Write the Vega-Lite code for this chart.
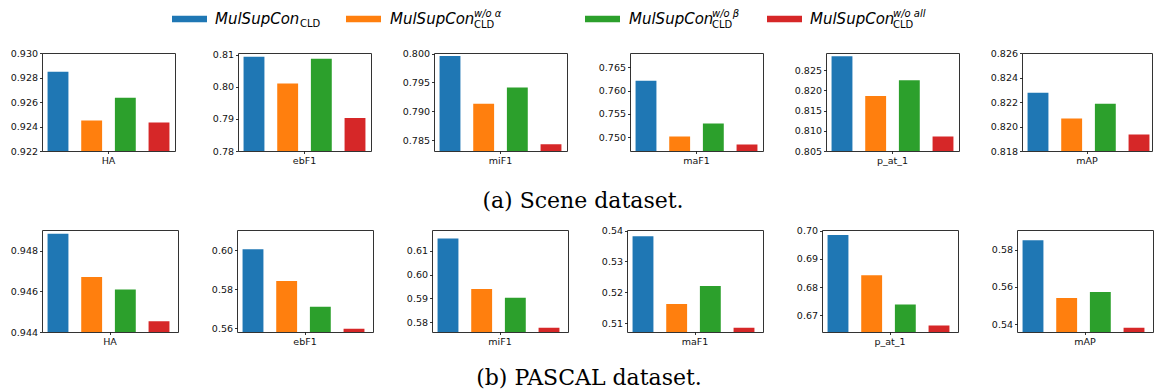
{
  "$schema": "https://vega.github.io/schema/vega-lite/v6.json",
  "padding": {"left": 3, "top": 5, "right": 0, "bottom": 0},
  "background": "white",
  "spacing": 0,
  "config": {
    "view": {"stroke": null},
    "font": "DejaVu Sans",
    "axis": {"grid": false, "domain": false, "tickSize": 2.5, "tickColor": "#000", "tickWidth": 0.8, "labelFont": "DejaVu Sans", "labelFontSize": 9.5, "labelColor": "#111", "labelPadding": 2, "labelOverlap": false, "labelFlush": false},
    "title": {"fontSize": 1}
  },
  "datasets": {
    "scene": [
      {"metric": "HA", "series": "MulSupCon_CLD", "value": 0.92846},
      {"metric": "HA", "series": "MulSupCon_CLD w/o α", "value": 0.92449},
      {"metric": "HA", "series": "MulSupCon_CLD w/o β", "value": 0.92635},
      {"metric": "HA", "series": "MulSupCon_CLD w/o all", "value": 0.92432},
      {"metric": "ebF1", "series": "MulSupCon_CLD", "value": 0.8093},
      {"metric": "ebF1", "series": "MulSupCon_CLD w/o α", "value": 0.801},
      {"metric": "ebF1", "series": "MulSupCon_CLD w/o β", "value": 0.8087},
      {"metric": "ebF1", "series": "MulSupCon_CLD w/o all", "value": 0.7903},
      {"metric": "miF1", "series": "MulSupCon_CLD", "value": 0.7996},
      {"metric": "miF1", "series": "MulSupCon_CLD w/o α", "value": 0.7913},
      {"metric": "miF1", "series": "MulSupCon_CLD w/o β", "value": 0.7941},
      {"metric": "miF1", "series": "MulSupCon_CLD w/o all", "value": 0.78425},
      {"metric": "maF1", "series": "MulSupCon_CLD", "value": 0.7621},
      {"metric": "maF1", "series": "MulSupCon_CLD w/o α", "value": 0.7501},
      {"metric": "maF1", "series": "MulSupCon_CLD w/o β", "value": 0.7529},
      {"metric": "maF1", "series": "MulSupCon_CLD w/o all", "value": 0.7484},
      {"metric": "p_at_1", "series": "MulSupCon_CLD", "value": 0.8284},
      {"metric": "p_at_1", "series": "MulSupCon_CLD w/o α", "value": 0.8186},
      {"metric": "p_at_1", "series": "MulSupCon_CLD w/o β", "value": 0.8225},
      {"metric": "p_at_1", "series": "MulSupCon_CLD w/o all", "value": 0.8086},
      {"metric": "mAP", "series": "MulSupCon_CLD", "value": 0.82276},
      {"metric": "mAP", "series": "MulSupCon_CLD w/o α", "value": 0.82065},
      {"metric": "mAP", "series": "MulSupCon_CLD w/o β", "value": 0.82186},
      {"metric": "mAP", "series": "MulSupCon_CLD w/o all", "value": 0.81935}
    ],
    "pascal": [
      {"metric": "HA", "series": "MulSupCon_CLD", "value": 0.94885},
      {"metric": "HA", "series": "MulSupCon_CLD w/o α", "value": 0.94671},
      {"metric": "HA", "series": "MulSupCon_CLD w/o β", "value": 0.9461},
      {"metric": "HA", "series": "MulSupCon_CLD w/o all", "value": 0.94453},
      {"metric": "ebF1", "series": "MulSupCon_CLD", "value": 0.6005},
      {"metric": "ebF1", "series": "MulSupCon_CLD w/o α", "value": 0.5842},
      {"metric": "ebF1", "series": "MulSupCon_CLD w/o β", "value": 0.571},
      {"metric": "ebF1", "series": "MulSupCon_CLD w/o all", "value": 0.5598},
      {"metric": "miF1", "series": "MulSupCon_CLD", "value": 0.6151},
      {"metric": "miF1", "series": "MulSupCon_CLD w/o α", "value": 0.594},
      {"metric": "miF1", "series": "MulSupCon_CLD w/o β", "value": 0.5903},
      {"metric": "miF1", "series": "MulSupCon_CLD w/o all", "value": 0.5778},
      {"metric": "maF1", "series": "MulSupCon_CLD", "value": 0.5382},
      {"metric": "maF1", "series": "MulSupCon_CLD w/o α", "value": 0.5162},
      {"metric": "maF1", "series": "MulSupCon_CLD w/o β", "value": 0.522},
      {"metric": "maF1", "series": "MulSupCon_CLD w/o all", "value": 0.5085},
      {"metric": "p_at_1", "series": "MulSupCon_CLD", "value": 0.6984},
      {"metric": "p_at_1", "series": "MulSupCon_CLD w/o α", "value": 0.6842},
      {"metric": "p_at_1", "series": "MulSupCon_CLD w/o β", "value": 0.6738},
      {"metric": "p_at_1", "series": "MulSupCon_CLD w/o all", "value": 0.6664},
      {"metric": "mAP", "series": "MulSupCon_CLD", "value": 0.5852},
      {"metric": "mAP", "series": "MulSupCon_CLD w/o α", "value": 0.5541},
      {"metric": "mAP", "series": "MulSupCon_CLD w/o β", "value": 0.5573},
      {"metric": "mAP", "series": "MulSupCon_CLD w/o all", "value": 0.538}
    ],
    "legend": [
      {"series": "MulSupCon_CLD", "name": "MulSupCon", "sub": "CLD", "sup": ""},
      {"series": "MulSupCon_CLD w/o α", "name": "MulSupCon", "sub": "CLD", "sup": "w/o α"},
      {"series": "MulSupCon_CLD w/o β", "name": "MulSupCon", "sub": "CLD", "sup": "w/o β"},
      {"series": "MulSupCon_CLD w/o all", "name": "MulSupCon", "sub": "CLD", "sup": "w/o all"}
    ],
    "captions": [
      {"id": "a", "caption": "(a) Scene dataset."},
      {"id": "b", "caption": "(b) PASCAL dataset."}
    ]
  },
  "vconcat": [
    {
      "spacing": 0,
      "hconcat": [
        {"width": 130, "height": 28, "data": {"name": "legend"}, "transform": [{"filter": "datum.series === 'MulSupCon_CLD'"}], "mark": {"type": "text"}, "encoding": {"text": {"value": ""}}},
        {"width": 35, "height": 28, "data": {"name": "legend"}, "transform": [{"filter": "datum.series === 'MulSupCon_CLD'"}], "mark": {"type": "point", "shape": "M-1,-0.186H1V0.186H-1Z", "size": 1225, "filled": true, "opacity": 1, "strokeWidth": 0}, "encoding": {"color": {"field": "series", "type": "nominal", "scale": {"domain": ["MulSupCon_CLD", "MulSupCon_CLD w/o α", "MulSupCon_CLD w/o β", "MulSupCon_CLD w/o all"], "range": ["#1f77b4", "#ff7f0e", "#2ca02c", "#d62728"]}, "legend": null}}},
        {"width": 139, "height": 28, "data": {"name": "legend"}, "transform": [{"filter": "datum.series === 'MulSupCon_CLD'"}], "layer": [
          {"mark": {"type": "text", "font": "DejaVu Sans", "fontStyle": "italic", "fontSize": 15, "align": "left", "baseline": "alphabetic", "dx": -61.5, "dy": 5, "color": "#000"}, "encoding": {"text": {"field": "name"}}},
          {"mark": {"type": "text", "font": "DejaVu Sans", "fontSize": 10, "align": "left", "baseline": "alphabetic", "dx": 23.5, "dy": 8, "color": "#000"}, "encoding": {"text": {"field": "sub"}}}
        ]},
        {"width": 35, "height": 28, "data": {"name": "legend"}, "transform": [{"filter": "datum.series === 'MulSupCon_CLD w/o α'"}], "mark": {"type": "point", "shape": "M-1,-0.186H1V0.186H-1Z", "size": 1225, "filled": true, "opacity": 1, "strokeWidth": 0}, "encoding": {"color": {"field": "series", "type": "nominal", "legend": null}}},
        {"width": 204, "height": 28, "data": {"name": "legend"}, "transform": [{"filter": "datum.series === 'MulSupCon_CLD w/o α'"}], "layer": [
          {"mark": {"type": "text", "font": "DejaVu Sans", "fontStyle": "italic", "fontSize": 15, "align": "left", "baseline": "alphabetic", "dx": -93, "dy": 5, "color": "#000"}, "encoding": {"text": {"field": "name"}}},
          {"mark": {"type": "text", "font": "DejaVu Sans", "fontSize": 10, "align": "left", "baseline": "alphabetic", "dx": -9, "dy": 9, "color": "#000"}, "encoding": {"text": {"field": "sub"}}},
          {"mark": {"type": "text", "font": "DejaVu Sans", "fontStyle": "italic", "fontSize": 10, "align": "left", "baseline": "alphabetic", "dx": -9, "dy": -2, "color": "#000"}, "encoding": {"text": {"field": "sup"}}}
        ]},
        {"width": 35, "height": 28, "data": {"name": "legend"}, "transform": [{"filter": "datum.series === 'MulSupCon_CLD w/o β'"}], "mark": {"type": "point", "shape": "M-1,-0.186H1V0.186H-1Z", "size": 1225, "filled": true, "opacity": 1, "strokeWidth": 0}, "encoding": {"color": {"field": "series", "type": "nominal", "legend": null}}},
        {"width": 147, "height": 28, "data": {"name": "legend"}, "transform": [{"filter": "datum.series === 'MulSupCon_CLD w/o β'"}], "layer": [
          {"mark": {"type": "text", "font": "DejaVu Sans", "fontStyle": "italic", "fontSize": 15, "align": "left", "baseline": "alphabetic", "dx": -64.5, "dy": 5, "color": "#000"}, "encoding": {"text": {"field": "name"}}},
          {"mark": {"type": "text", "font": "DejaVu Sans", "fontSize": 10, "align": "left", "baseline": "alphabetic", "dx": 18.5, "dy": 9, "color": "#000"}, "encoding": {"text": {"field": "sub"}}},
          {"mark": {"type": "text", "font": "DejaVu Sans", "fontStyle": "italic", "fontSize": 10, "align": "left", "baseline": "alphabetic", "dx": 18.5, "dy": -2, "color": "#000"}, "encoding": {"text": {"field": "sup"}}}
        ]},
        {"width": 35, "height": 28, "data": {"name": "legend"}, "transform": [{"filter": "datum.series === 'MulSupCon_CLD w/o all'"}], "mark": {"type": "point", "shape": "M-1,-0.186H1V0.186H-1Z", "size": 1225, "filled": true, "opacity": 1, "strokeWidth": 0}, "encoding": {"color": {"field": "series", "type": "nominal", "legend": null}}},
        {"width": 130, "height": 28, "data": {"name": "legend"}, "transform": [{"filter": "datum.series === 'MulSupCon_CLD w/o all'"}], "layer": [
          {"mark": {"type": "text", "font": "DejaVu Sans", "fontStyle": "italic", "fontSize": 15, "align": "left", "baseline": "alphabetic", "dx": -57, "dy": 5, "color": "#000"}, "encoding": {"text": {"field": "name"}}},
          {"mark": {"type": "text", "font": "DejaVu Sans", "fontSize": 10, "align": "left", "baseline": "alphabetic", "dx": 26, "dy": 9, "color": "#000"}, "encoding": {"text": {"field": "sub"}}},
          {"mark": {"type": "text", "font": "DejaVu Sans", "fontStyle": "italic", "fontSize": 10, "align": "left", "baseline": "alphabetic", "dx": 26, "dy": -2, "color": "#000"}, "encoding": {"text": {"field": "sup"}}}
        ]}
      ]
    },
    {
      "spacing": 63,
      "bounds": "flush",
      "hconcat": [
        {"width": 133, "height": 98, "view": {"stroke": "#333", "strokeWidth": 1}, "title": {"text": " ", "fontSize": 1, "offset": 13, "frame": "group"}, "data": {"name": "scene"}, "transform": [{"filter": "datum.metric === 'HA'"}], "mark": {"type": "bar", "clip": true},
          "encoding": {"x": {"field": "metric", "type": "nominal", "title": null, "scale": {"paddingInner": 0, "paddingOuter": 0}, "axis": {"labelAngle": 0, "minExtent": 20, "maxExtent": 20}}, "xOffset": {"field": "series", "type": "nominal", "scale": {"domain": ["MulSupCon_CLD", "MulSupCon_CLD w/o α", "MulSupCon_CLD w/o β", "MulSupCon_CLD w/o all"], "paddingInner": 0.38, "paddingOuter": 0.165}}, "y": {"field": "value", "type": "quantitative", "title": null, "scale": {"domain": [0.922, 0.93], "zero": false, "nice": false}, "axis": {"values": [0.922, 0.924, 0.926, 0.928, 0.93], "format": ".3f", "minExtent": 38, "maxExtent": 38}}, "color": {"field": "series", "type": "nominal", "legend": null}}},
        {"width": 133, "height": 98, "view": {"stroke": "#333", "strokeWidth": 1}, "title": {"text": " ", "fontSize": 1, "offset": 13, "frame": "group"}, "data": {"name": "scene"}, "transform": [{"filter": "datum.metric === 'ebF1'"}], "mark": {"type": "bar", "clip": true},
          "encoding": {"x": {"field": "metric", "type": "nominal", "title": null, "scale": {"paddingInner": 0, "paddingOuter": 0}, "axis": {"labelAngle": 0, "minExtent": 20, "maxExtent": 20}}, "xOffset": {"field": "series", "type": "nominal", "scale": {"domain": ["MulSupCon_CLD", "MulSupCon_CLD w/o α", "MulSupCon_CLD w/o β", "MulSupCon_CLD w/o all"], "paddingInner": 0.38, "paddingOuter": 0.165}}, "y": {"field": "value", "type": "quantitative", "title": null, "scale": {"domain": [0.78, 0.8105], "zero": false, "nice": false}, "axis": {"values": [0.78, 0.79, 0.8, 0.81], "format": ".2f"}}, "color": {"field": "series", "type": "nominal", "legend": null}}},
        {"width": 133, "height": 98, "view": {"stroke": "#333", "strokeWidth": 1}, "title": {"text": " ", "fontSize": 1, "offset": 13, "frame": "group"}, "data": {"name": "scene"}, "transform": [{"filter": "datum.metric === 'miF1'"}], "mark": {"type": "bar", "clip": true},
          "encoding": {"x": {"field": "metric", "type": "nominal", "title": null, "scale": {"paddingInner": 0, "paddingOuter": 0}, "axis": {"labelAngle": 0, "minExtent": 20, "maxExtent": 20}}, "xOffset": {"field": "series", "type": "nominal", "scale": {"domain": ["MulSupCon_CLD", "MulSupCon_CLD w/o α", "MulSupCon_CLD w/o β", "MulSupCon_CLD w/o all"], "paddingInner": 0.38, "paddingOuter": 0.165}}, "y": {"field": "value", "type": "quantitative", "title": null, "scale": {"domain": [0.7831, 0.8001], "zero": false, "nice": false}, "axis": {"values": [0.785, 0.79, 0.795, 0.8], "format": ".3f"}}, "color": {"field": "series", "type": "nominal", "legend": null}}},
        {"width": 133, "height": 98, "view": {"stroke": "#333", "strokeWidth": 1}, "title": {"text": " ", "fontSize": 1, "offset": 13, "frame": "group"}, "data": {"name": "scene"}, "transform": [{"filter": "datum.metric === 'maF1'"}], "mark": {"type": "bar", "clip": true},
          "encoding": {"x": {"field": "metric", "type": "nominal", "title": null, "scale": {"paddingInner": 0, "paddingOuter": 0}, "axis": {"labelAngle": 0, "minExtent": 20, "maxExtent": 20}}, "xOffset": {"field": "series", "type": "nominal", "scale": {"domain": ["MulSupCon_CLD", "MulSupCon_CLD w/o α", "MulSupCon_CLD w/o β", "MulSupCon_CLD w/o all"], "paddingInner": 0.38, "paddingOuter": 0.165}}, "y": {"field": "value", "type": "quantitative", "title": null, "scale": {"domain": [0.747, 0.7681], "zero": false, "nice": false}, "axis": {"values": [0.75, 0.755, 0.76, 0.765], "format": ".3f"}}, "color": {"field": "series", "type": "nominal", "legend": null}}},
        {"width": 133, "height": 98, "view": {"stroke": "#333", "strokeWidth": 1}, "title": {"text": " ", "fontSize": 1, "offset": 13, "frame": "group"}, "data": {"name": "scene"}, "transform": [{"filter": "datum.metric === 'p_at_1'"}], "mark": {"type": "bar", "clip": true},
          "encoding": {"x": {"field": "metric", "type": "nominal", "title": null, "scale": {"paddingInner": 0, "paddingOuter": 0}, "axis": {"labelAngle": 0, "minExtent": 20, "maxExtent": 20}}, "xOffset": {"field": "series", "type": "nominal", "scale": {"domain": ["MulSupCon_CLD", "MulSupCon_CLD w/o α", "MulSupCon_CLD w/o β", "MulSupCon_CLD w/o all"], "paddingInner": 0.38, "paddingOuter": 0.165}}, "y": {"field": "value", "type": "quantitative", "title": null, "scale": {"domain": [0.805, 0.8292], "zero": false, "nice": false}, "axis": {"values": [0.805, 0.81, 0.815, 0.82, 0.825], "format": ".3f"}}, "color": {"field": "series", "type": "nominal", "legend": null}}},
        {"width": 130, "height": 98, "view": {"stroke": "#333", "strokeWidth": 1}, "title": {"text": " ", "fontSize": 1, "offset": 13, "frame": "group"}, "data": {"name": "scene"}, "transform": [{"filter": "datum.metric === 'mAP'"}], "mark": {"type": "bar", "clip": true},
          "encoding": {"x": {"field": "metric", "type": "nominal", "title": null, "scale": {"paddingInner": 0, "paddingOuter": 0}, "axis": {"labelAngle": 0, "minExtent": 20, "maxExtent": 20}}, "xOffset": {"field": "series", "type": "nominal", "scale": {"domain": ["MulSupCon_CLD", "MulSupCon_CLD w/o α", "MulSupCon_CLD w/o β", "MulSupCon_CLD w/o all"], "paddingInner": 0.38, "paddingOuter": 0.165}}, "y": {"field": "value", "type": "quantitative", "title": null, "scale": {"domain": [0.818, 0.826], "zero": false, "nice": false}, "axis": {"values": [0.818, 0.82, 0.822, 0.824, 0.826], "format": ".3f"}}, "color": {"field": "series", "type": "nominal", "legend": null}}}
      ]
    },
    {"width": 1109, "height": 44, "data": {"name": "captions"}, "transform": [{"filter": "datum.id === 'a'"}], "mark": {"type": "text", "font": "DejaVu Serif", "fontSize": 22, "align": "center", "baseline": "alphabetic", "dx": -13.5, "dy": 14, "color": "#000"}, "encoding": {"text": {"field": "caption"}}},
    {
      "spacing": 59,
      "bounds": "flush",
      "hconcat": [
        {"width": 136, "height": 102, "view": {"stroke": "#333", "strokeWidth": 1}, "title": {"text": " ", "fontSize": 1, "offset": 7.5, "frame": "group"}, "data": {"name": "pascal"}, "transform": [{"filter": "datum.metric === 'HA'"}], "mark": {"type": "bar", "clip": true},
          "encoding": {"x": {"field": "metric", "type": "nominal", "title": null, "scale": {"paddingInner": 0, "paddingOuter": 0}, "axis": {"labelAngle": 0, "minExtent": 20, "maxExtent": 20}}, "xOffset": {"field": "series", "type": "nominal", "scale": {"domain": ["MulSupCon_CLD", "MulSupCon_CLD w/o α", "MulSupCon_CLD w/o β", "MulSupCon_CLD w/o all"], "paddingInner": 0.38, "paddingOuter": 0.165}}, "y": {"field": "value", "type": "quantitative", "title": null, "scale": {"domain": [0.944, 0.94903], "zero": false, "nice": false}, "axis": {"values": [0.944, 0.946, 0.948], "format": ".3f", "minExtent": 38, "maxExtent": 38}}, "color": {"field": "series", "type": "nominal", "legend": null}}},
        {"width": 136, "height": 102, "view": {"stroke": "#333", "strokeWidth": 1}, "title": {"text": " ", "fontSize": 1, "offset": 7.5, "frame": "group"}, "data": {"name": "pascal"}, "transform": [{"filter": "datum.metric === 'ebF1'"}], "mark": {"type": "bar", "clip": true},
          "encoding": {"x": {"field": "metric", "type": "nominal", "title": null, "scale": {"paddingInner": 0, "paddingOuter": 0}, "axis": {"labelAngle": 0, "minExtent": 20, "maxExtent": 20}}, "xOffset": {"field": "series", "type": "nominal", "scale": {"domain": ["MulSupCon_CLD", "MulSupCon_CLD w/o α", "MulSupCon_CLD w/o β", "MulSupCon_CLD w/o all"], "paddingInner": 0.38, "paddingOuter": 0.165}}, "y": {"field": "value", "type": "quantitative", "title": null, "scale": {"domain": [0.5581, 0.6103], "zero": false, "nice": false}, "axis": {"values": [0.56, 0.58, 0.6], "format": ".2f"}}, "color": {"field": "series", "type": "nominal", "legend": null}}},
        {"width": 136, "height": 102, "view": {"stroke": "#333", "strokeWidth": 1}, "title": {"text": " ", "fontSize": 1, "offset": 7.5, "frame": "group"}, "data": {"name": "pascal"}, "transform": [{"filter": "datum.metric === 'miF1'"}], "mark": {"type": "bar", "clip": true},
          "encoding": {"x": {"field": "metric", "type": "nominal", "title": null, "scale": {"paddingInner": 0, "paddingOuter": 0}, "axis": {"labelAngle": 0, "minExtent": 20, "maxExtent": 20}}, "xOffset": {"field": "series", "type": "nominal", "scale": {"domain": ["MulSupCon_CLD", "MulSupCon_CLD w/o α", "MulSupCon_CLD w/o β", "MulSupCon_CLD w/o all"], "paddingInner": 0.38, "paddingOuter": 0.165}}, "y": {"field": "value", "type": "quantitative", "title": null, "scale": {"domain": [0.576, 0.6186], "zero": false, "nice": false}, "axis": {"values": [0.58, 0.59, 0.6, 0.61], "format": ".2f"}}, "color": {"field": "series", "type": "nominal", "legend": null}}},
        {"width": 136, "height": 102, "view": {"stroke": "#333", "strokeWidth": 1}, "title": {"text": " ", "fontSize": 1, "offset": 7.5, "frame": "group"}, "data": {"name": "pascal"}, "transform": [{"filter": "datum.metric === 'maF1'"}], "mark": {"type": "bar", "clip": true},
          "encoding": {"x": {"field": "metric", "type": "nominal", "title": null, "scale": {"paddingInner": 0, "paddingOuter": 0}, "axis": {"labelAngle": 0, "minExtent": 20, "maxExtent": 20}}, "xOffset": {"field": "series", "type": "nominal", "scale": {"domain": ["MulSupCon_CLD", "MulSupCon_CLD w/o α", "MulSupCon_CLD w/o β", "MulSupCon_CLD w/o all"], "paddingInner": 0.38, "paddingOuter": 0.165}}, "y": {"field": "value", "type": "quantitative", "title": null, "scale": {"domain": [0.5071, 0.5402], "zero": false, "nice": false}, "axis": {"values": [0.51, 0.52, 0.53, 0.54], "format": ".2f"}}, "color": {"field": "series", "type": "nominal", "legend": null}}},
        {"width": 136, "height": 102, "view": {"stroke": "#333", "strokeWidth": 1}, "title": {"text": " ", "fontSize": 1, "offset": 7.5, "frame": "group"}, "data": {"name": "pascal"}, "transform": [{"filter": "datum.metric === 'p_at_1'"}], "mark": {"type": "bar", "clip": true},
          "encoding": {"x": {"field": "metric", "type": "nominal", "title": null, "scale": {"paddingInner": 0, "paddingOuter": 0}, "axis": {"labelAngle": 0, "minExtent": 20, "maxExtent": 20}}, "xOffset": {"field": "series", "type": "nominal", "scale": {"domain": ["MulSupCon_CLD", "MulSupCon_CLD w/o α", "MulSupCon_CLD w/o β", "MulSupCon_CLD w/o all"], "paddingInner": 0.38, "paddingOuter": 0.165}}, "y": {"field": "value", "type": "quantitative", "title": null, "scale": {"domain": [0.6641, 0.7002], "zero": false, "nice": false}, "axis": {"values": [0.67, 0.68, 0.69, 0.7], "format": ".2f"}}, "color": {"field": "series", "type": "nominal", "legend": null}}},
        {"width": 136, "height": 102, "view": {"stroke": "#333", "strokeWidth": 1}, "title": {"text": " ", "fontSize": 1, "offset": 7.5, "frame": "group"}, "data": {"name": "pascal"}, "transform": [{"filter": "datum.metric === 'mAP'"}], "mark": {"type": "bar", "clip": true},
          "encoding": {"x": {"field": "metric", "type": "nominal", "title": null, "scale": {"paddingInner": 0, "paddingOuter": 0}, "axis": {"labelAngle": 0, "minExtent": 20, "maxExtent": 20}}, "xOffset": {"field": "series", "type": "nominal", "scale": {"domain": ["MulSupCon_CLD", "MulSupCon_CLD w/o α", "MulSupCon_CLD w/o β", "MulSupCon_CLD w/o all"], "paddingInner": 0.38, "paddingOuter": 0.165}}, "y": {"field": "value", "type": "quantitative", "title": null, "scale": {"domain": [0.5357, 0.5907], "zero": false, "nice": false}, "axis": {"values": [0.54, 0.56, 0.58], "format": ".2f"}}, "color": {"field": "series", "type": "nominal", "legend": null}}}
      ]
    },
    {"width": 1109, "height": 36, "data": {"name": "captions"}, "transform": [{"filter": "datum.id === 'b'"}], "mark": {"type": "text", "font": "DejaVu Serif", "fontSize": 22, "align": "center", "baseline": "alphabetic", "dx": -7.5, "dy": 14, "color": "#000"}, "encoding": {"text": {"field": "caption"}}}
  ]
}
